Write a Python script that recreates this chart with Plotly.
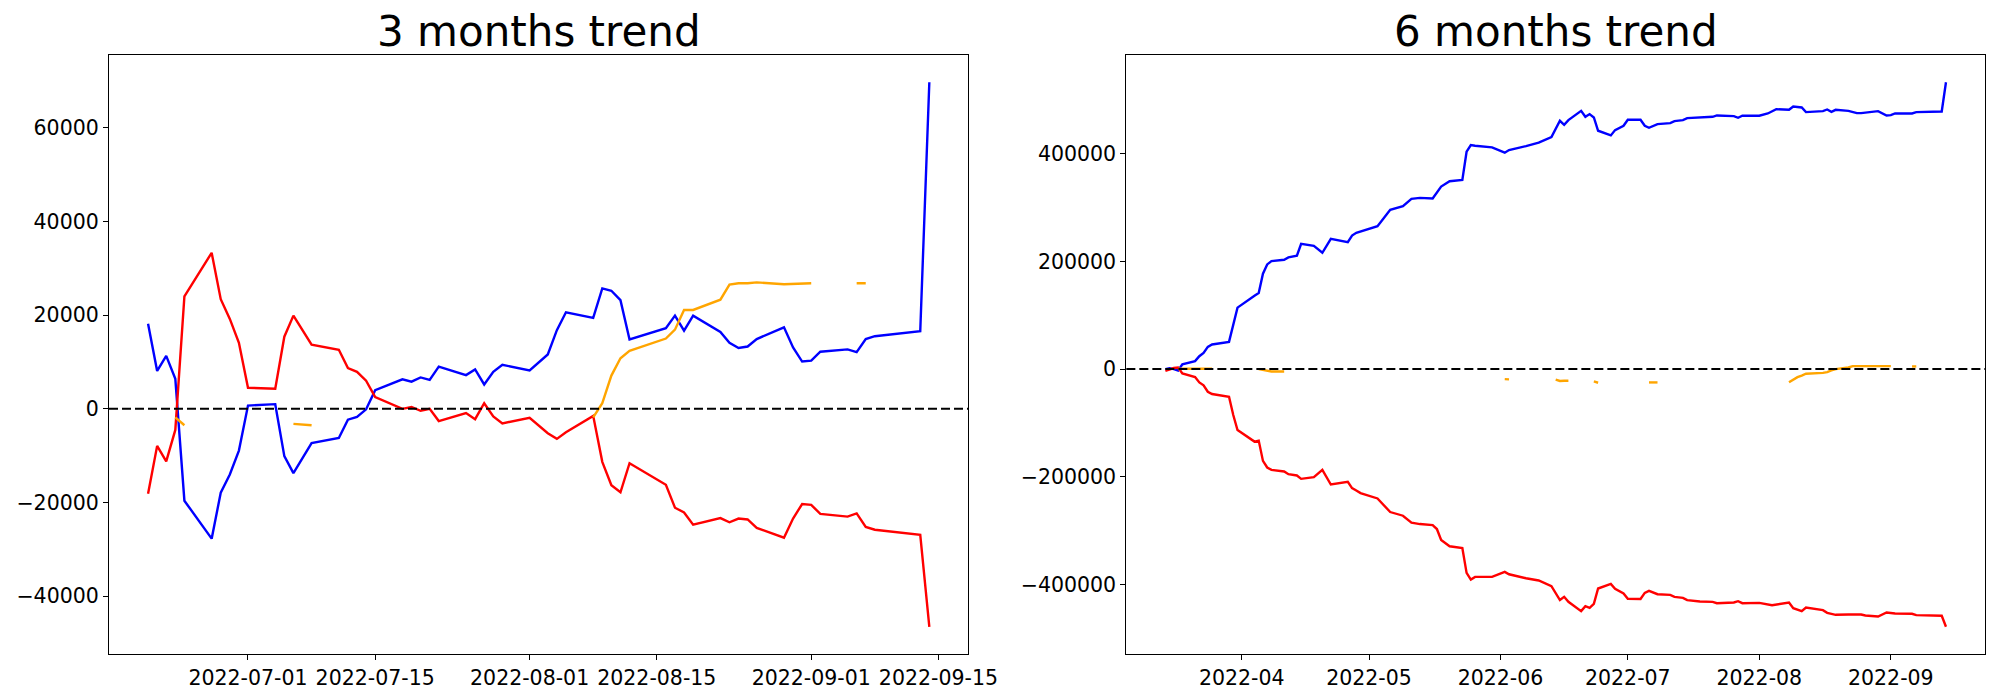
import plotly.graph_objects as go
import pandas as pd

# ---------------- 3 months trend ----------------
left_dates = ["2022-06-20","2022-06-21","2022-06-22","2022-06-23","2022-06-24","2022-06-27","2022-06-28","2022-06-29","2022-06-30",
              "2022-07-01","2022-07-04","2022-07-05","2022-07-06","2022-07-08","2022-07-11","2022-07-12","2022-07-13","2022-07-14","2022-07-15",
              "2022-07-18","2022-07-19","2022-07-20","2022-07-21","2022-07-22","2022-07-25","2022-07-26","2022-07-27","2022-07-28","2022-07-29",
              "2022-08-01","2022-08-03","2022-08-04","2022-08-05","2022-08-08","2022-08-09","2022-08-10","2022-08-11","2022-08-12",
              "2022-08-16","2022-08-17","2022-08-18","2022-08-19","2022-08-22","2022-08-23","2022-08-24","2022-08-25","2022-08-26",
              "2022-08-29","2022-08-30","2022-08-31","2022-09-01","2022-09-02","2022-09-05","2022-09-06","2022-09-07","2022-09-08",
              "2022-09-13","2022-09-14"]
left_blue = [18150, 8100, 11300, 6400, -19600, -27700, -17900, -14000, -8900,
             700, 1000, -10100, -13700, -7300, -6200, -2300, -1700, -100, 4000,
             6300, 5800, 6700, 6200, 9000, 7200, 8400, 5200, 7900, 9400,
             8200, 11600, 16800, 20600, 19400, 25700, 25200, 23200, 14800,
             17200, 19900, 16700, 19900, 16400, 14100, 13000, 13300, 14900,
             17400, 13100, 10100, 10300, 12200, 12700, 12100, 14900, 15500,
             16600, 69700]
left_red = [-18100, -7900, -11200, -4500, 24000, 33300, 23400, 19200, 14100,
            4500, 4300, 15400, 19900, 13700, 12600, 8700, 7900, 6000, 2500,
            0, 400, -400, 0, -2600, -900, -2200, 1200, -1600, -3100,
            -1900, -5200, -6400, -5000, -1500, -11300, -16300, -17800, -11600,
            -16200, -21100, -22100, -24700, -23300, -24200, -23400, -23600, -25400,
            -27500, -23400, -20300, -20500, -22400, -23000, -22300, -25200, -25800,
            -26900, -46500]
left_orange = [None, None, None, -1800, -3500, None, None, None, None,
               None, None, None, -3200, -3500, None, None, None, None, None,
               None, None, None, None, None, None, None, None, None, None,
               None, None, None, None, -1800, 1200, 7100, 10800, 12400,
               15000, 16900, 21100, 21100, 23300, 26500, 26800, 26800, 27000,
               26600, 26700, 26800, 26800, None, None, 26800, 26800, None,
               None, None]
left_xticks = ["2022-07-01", "2022-07-15", "2022-08-01", "2022-08-15", "2022-09-01", "2022-09-15"]
left_yticks = [-40000, -20000, 0, 20000, 40000, 60000]

# ---------------- 6 months trend ----------------
right_blue_dates = ["2022-03-14","2022-03-15","2022-03-16","2022-03-17","2022-03-18","2022-03-21","2022-03-22","2022-03-23","2022-03-24","2022-03-25",
                    "2022-03-29","2022-03-30","2022-03-31","2022-04-04","2022-04-05","2022-04-06","2022-04-07","2022-04-08","2022-04-11","2022-04-12",
                    "2022-04-14","2022-04-15","2022-04-18","2022-04-20","2022-04-22","2022-04-26","2022-04-27","2022-04-28","2022-04-29","2022-05-03",
                    "2022-05-06","2022-05-09","2022-05-11","2022-05-13","2022-05-16","2022-05-18","2022-05-20","2022-05-23","2022-05-24","2022-05-25",
                    "2022-05-26","2022-05-30","2022-06-02","2022-06-03","2022-06-07","2022-06-10","2022-06-13","2022-06-15","2022-06-16","2022-06-17",
                    "2022-06-20","2022-06-21","2022-06-22","2022-06-23","2022-06-24","2022-06-27","2022-06-28","2022-06-30","2022-07-01","2022-07-04",
                    "2022-07-05","2022-07-06","2022-07-08","2022-07-11","2022-07-12","2022-07-14","2022-07-15","2022-07-18","2022-07-21","2022-07-22",
                    "2022-07-26","2022-07-27","2022-07-28","2022-08-01","2022-08-03","2022-08-05","2022-08-08","2022-08-09","2022-08-11","2022-08-12",
                    "2022-08-16","2022-08-17","2022-08-18","2022-08-19","2022-08-22","2022-08-24","2022-08-25","2022-08-29","2022-08-31","2022-09-01",
                    "2022-09-02","2022-09-06","2022-09-07","2022-09-13","2022-09-14"]
right_blue = [0, 1500, 0, -2500, 9000, 14800, 24000, 30200, 41400, 45700,
              50600, 84600, 114200, 136400, 141400, 177200, 194400, 200600, 203100, 207400,
              210500, 232700, 229000, 216000, 242000, 235800, 248100, 253100, 255600, 265400,
              295700, 302500, 316000, 317900, 316700, 338900, 348800, 351200, 403700, 416000,
              414800, 411700, 401900, 406800, 414200, 420400, 430900, 461100, 453700, 462300,
              479600, 468500, 473500, 467300, 442600, 434000, 443800, 451900, 463000, 463000,
              451900, 448100, 454900, 456800, 460500, 462300, 466000, 467900, 468500, 471000,
              469800, 466700, 470400, 470400, 474700, 482700, 481500, 487700, 485800, 477200,
              479000, 482100, 477800, 481500, 479600, 475300, 475300, 479000, 471000, 471600,
              474700, 474700, 477200, 478400, 532700]

right_red_dates = ["2022-03-14","2022-03-15","2022-03-16","2022-03-17","2022-03-18","2022-03-21","2022-03-22","2022-03-23","2022-03-24","2022-03-25",
                   "2022-03-29","2022-03-30","2022-03-31","2022-04-04","2022-04-05","2022-04-06","2022-04-07","2022-04-08","2022-04-11","2022-04-12",
                   "2022-04-14","2022-04-15","2022-04-18","2022-04-20","2022-04-22","2022-04-26","2022-04-27","2022-04-28","2022-04-29","2022-05-03",
                   "2022-05-06","2022-05-09","2022-05-11","2022-05-13","2022-05-16","2022-05-17","2022-05-18","2022-05-20","2022-05-23","2022-05-24",
                   "2022-05-25","2022-05-26","2022-05-30","2022-06-02","2022-06-03","2022-06-07","2022-06-09","2022-06-10","2022-06-13","2022-06-15",
                   "2022-06-16","2022-06-17","2022-06-20","2022-06-21","2022-06-22","2022-06-23","2022-06-24","2022-06-27","2022-06-28","2022-06-30",
                   "2022-07-01","2022-07-04","2022-07-05","2022-07-06","2022-07-08","2022-07-11","2022-07-12","2022-07-14","2022-07-15","2022-07-18",
                   "2022-07-21","2022-07-22","2022-07-26","2022-07-27","2022-07-28","2022-08-01","2022-08-04","2022-08-08","2022-08-09","2022-08-11",
                   "2022-08-12","2022-08-16","2022-08-17","2022-08-19","2022-08-22","2022-08-24","2022-08-25","2022-08-26","2022-08-29","2022-08-31",
                   "2022-09-01","2022-09-02","2022-09-06","2022-09-07","2022-09-13","2022-09-14"]
right_red = [-3100, 0, 2000, 3100, -8000, -14800, -24700, -30200, -42000, -46300,
             -51200, -85200, -113000, -134600, -132700, -170400, -182700, -187000, -190100, -195100,
             -197500, -203700, -200600, -187000, -214200, -209300, -221000, -225300, -230200, -240100,
             -265400, -272200, -285200, -287700, -289500, -296900, -317300, -329000, -332100, -378400,
             -390700, -385800, -385800, -376500, -380900, -388300, -390700, -392500, -403100, -428700,
             -422800, -432100, -449400, -440100, -443200, -435800, -407400, -398800, -408000, -416700,
             -426500, -426900, -415400, -411700, -417900, -419100, -422800, -424700, -429000, -431500,
             -432100, -434600, -433300, -430900, -434600, -434000, -438300, -433300, -443800, -449400,
             -442600, -447500, -452500, -456200, -455600, -454900, -455600, -457400, -459300, -451900,
             -452500, -453700, -454300, -456800, -458000, -478400]

right_orange_dates = ["2022-03-17","2022-03-18","2022-03-21","2022-03-22","2022-03-23","2022-03-24","2022-03-25","2022-03-29",
                      "2022-04-05","2022-04-06","2022-04-07","2022-04-08","2022-04-11","2022-04-12",
                      "2022-06-02","2022-06-03","2022-06-07",
                      "2022-06-14","2022-06-15","2022-06-16","2022-06-17","2022-06-20",
                      "2022-06-23","2022-06-24","2022-06-27",
                      "2022-07-06","2022-07-07","2022-07-08","2022-07-11",
                      "2022-08-08","2022-08-09","2022-08-10","2022-08-11","2022-08-12","2022-08-16","2022-08-17","2022-08-18",
                      "2022-08-19","2022-08-22","2022-08-23","2022-08-24","2022-08-25","2022-08-26","2022-08-29","2022-08-30",
                      "2022-08-31","2022-09-01","2022-09-02","2022-09-06","2022-09-07"]
right_orange = [300, 800, 800, 800, 800, 800, 800, None,
                0, -1200, -2500, -4300, -4300, None,
                -18500, -19000, None,
                -19500, -22000, -21600, -21600, None,
                -22800, -25300, None,
                -24700, -24700, -24700, None,
                -24500, -19500, -15000, -12000, -8600, -7000, -5500, -2500,
                0, 3000, 5600, 5600, 5600, 5600, 5600, 5600,
                5600, 5600, None, 5000, 5000]
right_xticks = ["2022-04-01", "2022-05-01", "2022-06-01", "2022-07-01", "2022-08-01", "2022-09-01"]
right_xtick_text = ["2022-04", "2022-05", "2022-06", "2022-07", "2022-08", "2022-09"]
right_yticks = [-400000, -200000, 0, 200000, 400000]

titles = ["3 months trend", "6 months trend"]

BLUE, RED, ORANGE = "#0000ff", "#ff0000", "#ffa500"
FONT = "DejaVu Sans"


def pad_range(values, frac=0.05):
    vals = [v for v in values if v is not None]
    lo, hi = min(vals), max(vals)
    p = (hi - lo) * frac
    return [lo - p, hi + p]


def pad_dates(*date_lists, frac=0.05):
    d = pd.to_datetime([x for lst in date_lists for x in lst])
    lo, hi = d.min(), d.max()
    p = (hi - lo) * frac
    return [(lo - p).strftime("%Y-%m-%d %H:%M:%S"), (hi + p).strftime("%Y-%m-%d %H:%M:%S")]


def fmt(v):
    return str(v).replace("-", "\u2212")


fig = go.Figure()
lw = 2.4
fig.add_trace(go.Scatter(x=left_dates, y=left_blue, mode="lines", line=dict(color=BLUE, width=lw), xaxis="x", yaxis="y"))
fig.add_trace(go.Scatter(x=left_dates, y=left_red, mode="lines", line=dict(color=RED, width=lw), xaxis="x", yaxis="y"))
fig.add_trace(go.Scatter(x=left_dates, y=left_orange, mode="lines", line=dict(color=ORANGE, width=lw), xaxis="x", yaxis="y"))

fig.add_trace(go.Scatter(x=right_blue_dates, y=right_blue, mode="lines", line=dict(color=BLUE, width=lw), xaxis="x2", yaxis="y2"))
fig.add_trace(go.Scatter(x=right_red_dates, y=right_red, mode="lines", line=dict(color=RED, width=lw), xaxis="x2", yaxis="y2"))
fig.add_trace(go.Scatter(x=right_orange_dates, y=right_orange, mode="lines", line=dict(color=ORANGE, width=lw), xaxis="x2", yaxis="y2"))

axis_common = dict(showline=True, linecolor="black", linewidth=1.2, mirror=True, ticks="outside",
                   ticklen=5, tickwidth=1.2, tickcolor="black", showgrid=False, zeroline=False,
                   tickfont=dict(family=FONT, size=20.5, color="black"))

left_all = left_blue + left_red + [v for v in left_orange if v is not None]
right_all = right_blue + right_red + [v for v in right_orange if v is not None]

fig.update_layout(
    width=2000, height=700, autosize=False,
    margin=dict(l=109, r=15, t=55, b=46, autoexpand=False),
    paper_bgcolor="white", plot_bgcolor="white",
    showlegend=False,
    font=dict(family=FONT, color="black"),
    xaxis=dict(domain=[0, 0.4581], type="date", range=pad_dates(left_dates),
               tickmode="array", tickvals=left_xticks, ticktext=left_xticks, **axis_common),
    yaxis=dict(range=pad_range(left_all), tickmode="array", tickvals=left_yticks,
               ticktext=[fmt(v) for v in left_yticks], **axis_common),
    xaxis2=dict(domain=[0.5423, 1], type="date", anchor="y2",
                range=pad_dates(right_blue_dates, right_red_dates),
                tickmode="array", tickvals=right_xticks, ticktext=right_xtick_text, **axis_common),
    yaxis2=dict(anchor="x2", range=pad_range(right_all), tickmode="array", tickvals=right_yticks,
                ticktext=[fmt(v) for v in right_yticks], **axis_common),
    shapes=[
        dict(type="line", xref="x domain", yref="y", x0=0, x1=1, y0=0, y1=0,
             line=dict(color="black", width=2, dash="9px,4px"), layer="above"),
        dict(type="line", xref="x2 domain", yref="y2", x0=0, x1=1, y0=0, y1=0,
             line=dict(color="black", width=2, dash="9px,4px"), layer="above"),
    ],
    annotations=[
        dict(text=titles[0], xref="x domain", yref="paper", x=0.5, y=1, xanchor="center", yanchor="bottom",
             yshift=-3, showarrow=False, font=dict(family=FONT, size=42, color="black")),
        dict(text=titles[1], xref="x2 domain", yref="paper", x=0.5, y=1, xanchor="center", yanchor="bottom",
             yshift=-3, showarrow=False, font=dict(family=FONT, size=42, color="black")),
    ],
)

fig.write_html("out.html", config={"responsive": False, "displayModeBar": False},
               post_script="document.body.style.margin='0';document.body.style.overflow='hidden';")
